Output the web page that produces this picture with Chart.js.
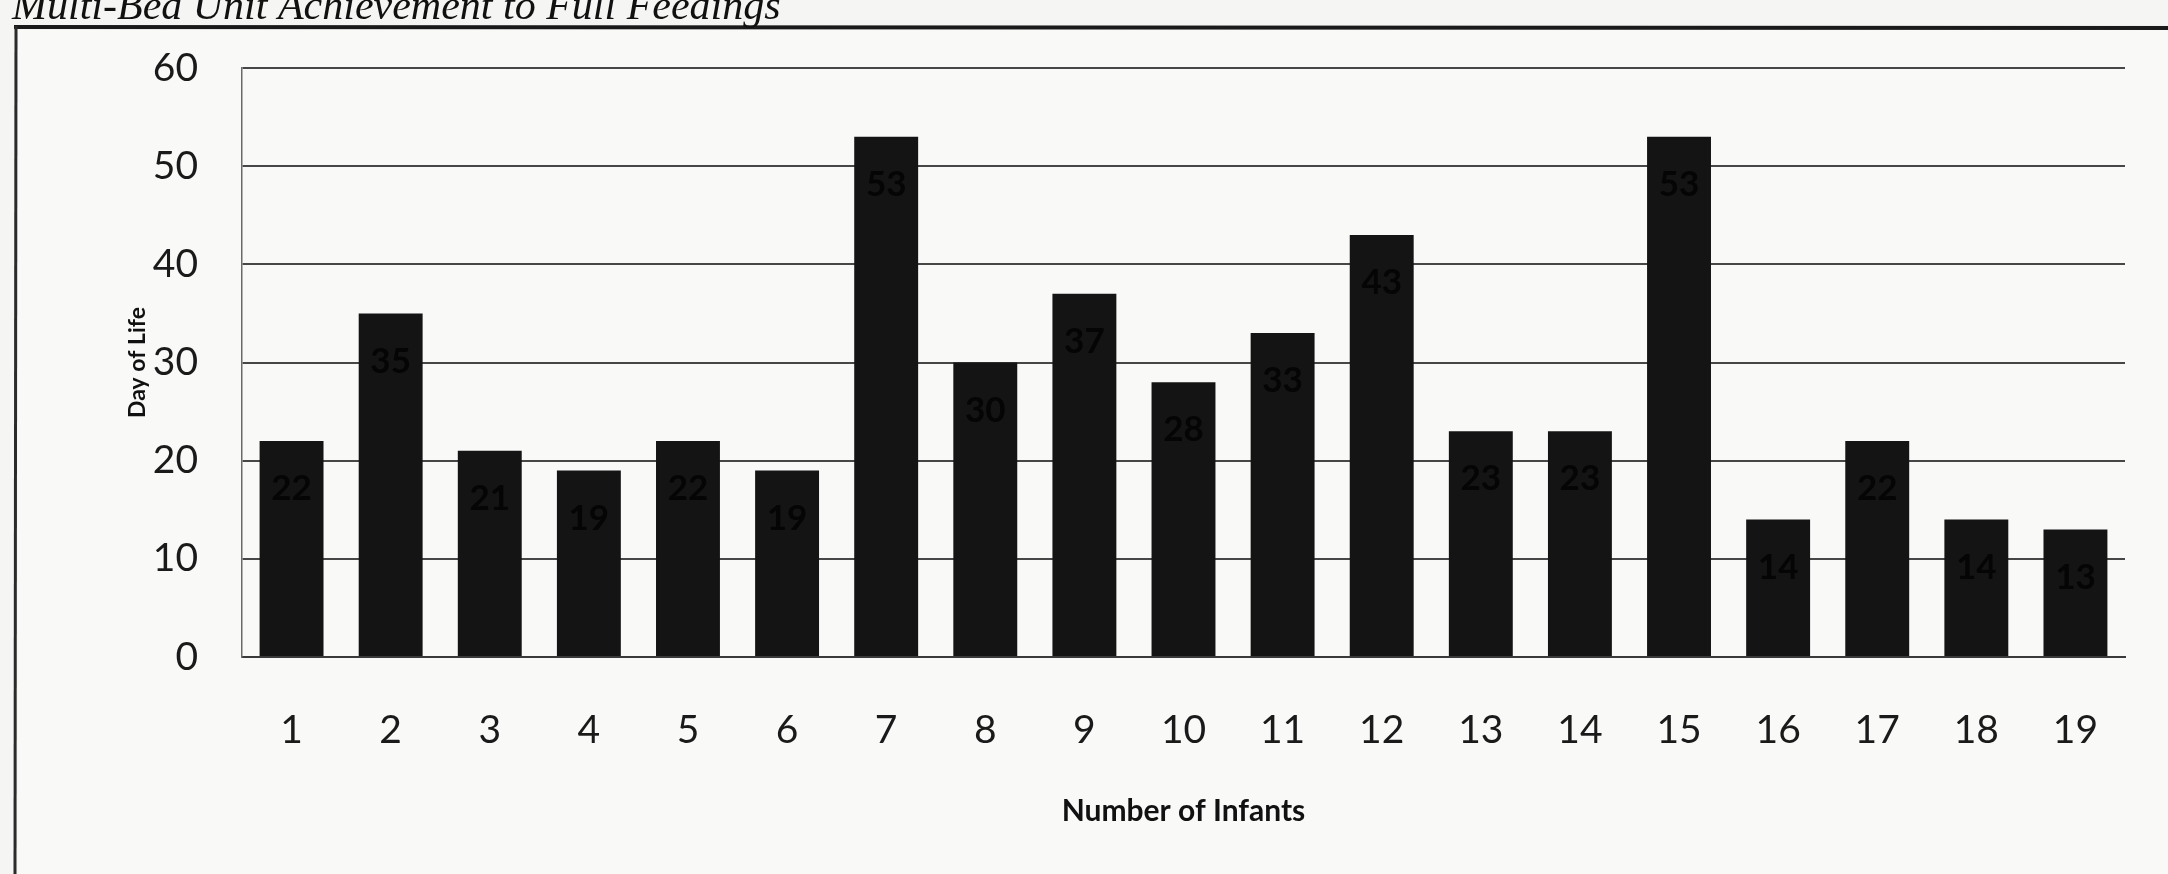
<!DOCTYPE html>
<html>
<head>
<meta charset="utf-8">
<script src="https://cdn.jsdelivr.net/npm/chart.js@4/dist/chart.umd.min.js"></script>
<style>
  html, body { margin: 0; padding: 0; background: #f5f5f3; }
  #wrap { width: 2168px; height: 874px; position: relative; }
  canvas { display: block; }
</style>
</head>
<body>
<div id="wrap"><canvas id="c" width="2168" height="874"></canvas></div>
<script>
// Day of life at which each infant reached full feedings
const titleText = 'Multi-Bed Unit Achievement to Full Feedings';
const infants = ['1','2','3','4','5','6','7','8','9','10','11','12','13','14','15','16','17','18','19'];
const dayOfLife = [22, 35, 21, 19, 22, 19, 53, 30, 37, 28, 33, 43, 23, 23, 53, 14, 22, 14, 13];
const yTicks = [0, 10, 20, 30, 40, 50, 60];

const sans = 'Lato, "Open Sans", "Liberation Sans", sans-serif';

// Page frame and the italic caption above it
const framePlugin = {
  id: 'frame',
  beforeDraw(chart) {
    const ctx = chart.ctx;
    ctx.save();
    ctx.fillStyle = '#f5f5f3';
    ctx.fillRect(0, 0, chart.width, chart.height);
    ctx.fillStyle = '#f9f9f8';
    ctx.fillRect(18, 27, chart.width - 18, chart.height - 27);
    ctx.strokeStyle = '#1a1a1a';
    ctx.lineWidth = 4;
    ctx.beginPath();
    ctx.moveTo(14, 27);
    ctx.lineTo(chart.width, 28);
    ctx.stroke();
    ctx.lineWidth = 3;
    ctx.strokeStyle = '#2a2a2a';
    ctx.beginPath();
    ctx.moveTo(16, 26);
    ctx.lineTo(15, chart.height);
    ctx.stroke();
    ctx.fillStyle = '#111';
    ctx.font = 'italic 42px "Liberation Serif", "DejaVu Serif", serif';
    ctx.textBaseline = 'alphabetic';
    ctx.textAlign = 'left';
    ctx.fillText(titleText, 12, 19);
    ctx.restore();
  }
};

// Value labels sitting inside the top of each bar
const valueLabels = {
  id: 'valueLabels',
  afterDatasetsDraw(chart) {
    const ctx = chart.ctx;
    const meta = chart.getDatasetMeta(0);
    ctx.save();
    ctx.font = 'bold 35px ' + sans;
    ctx.fillStyle = '#050505';
    ctx.textAlign = 'center';
    ctx.textBaseline = 'middle';
    meta.data.forEach((bar, i) => {
      ctx.fillText(String(dayOfLife[i]), bar.x, bar.y + 48);
    });
    ctx.restore();
  }
};

new Chart(document.getElementById('c'), {
  type: 'bar',
  data: {
    labels: infants,
    datasets: [{
      data: dayOfLife,
      backgroundColor: '#141414',
      borderWidth: 0,
      categoryPercentage: 1.0,
      barPercentage: 0.645
    }]
  },
  options: {
    responsive: false,
    animation: false,
    layout: { padding: { top: 68, right: 43, left: 0, bottom: 0 } },
    plugins: {
      legend: { display: false },
      tooltip: { enabled: false },
      title: { display: false }
    },
    scales: {
      x: {
        grid: { display: false, drawTicks: false },
        border: { display: true, color: '#3a3a3a', width: 2 },
        ticks: {
          color: '#1a1a1a',
          font: { family: sans, size: 39 },
          padding: 50,
          maxRotation: 0
        },
        title: {
          display: true,
          text: 'Number of Infants',
          color: '#111',
          font: { family: sans, size: 30, weight: 'bold' },
          padding: { top: 0, bottom: 45 }
        },
        afterFit(scale) { scale.height = 217; }
      },
      y: {
        min: 0,
        max: 60,
        afterBuildTicks(scale) { scale.ticks = yTicks.map(v => ({ value: v })); },
        grid: { color: '#474747', lineWidth: 2, drawTicks: false },
        border: { display: true, color: '#6a6a6a', width: 1.5 },
        ticks: {
          color: '#1a1a1a',
          font: { family: sans, size: 39 },
          padding: 44
        },
        title: {
          display: true,
          text: 'Day of Life',
          color: '#111',
          font: { family: sans, size: 23, weight: 'bold' },
          padding: { top: 124, bottom: 0 }
        },
        afterFit(scale) { scale.width = 242; }
      }
    }
  },
  plugins: [framePlugin, valueLabels]
});
</script>
</body>
</html>
